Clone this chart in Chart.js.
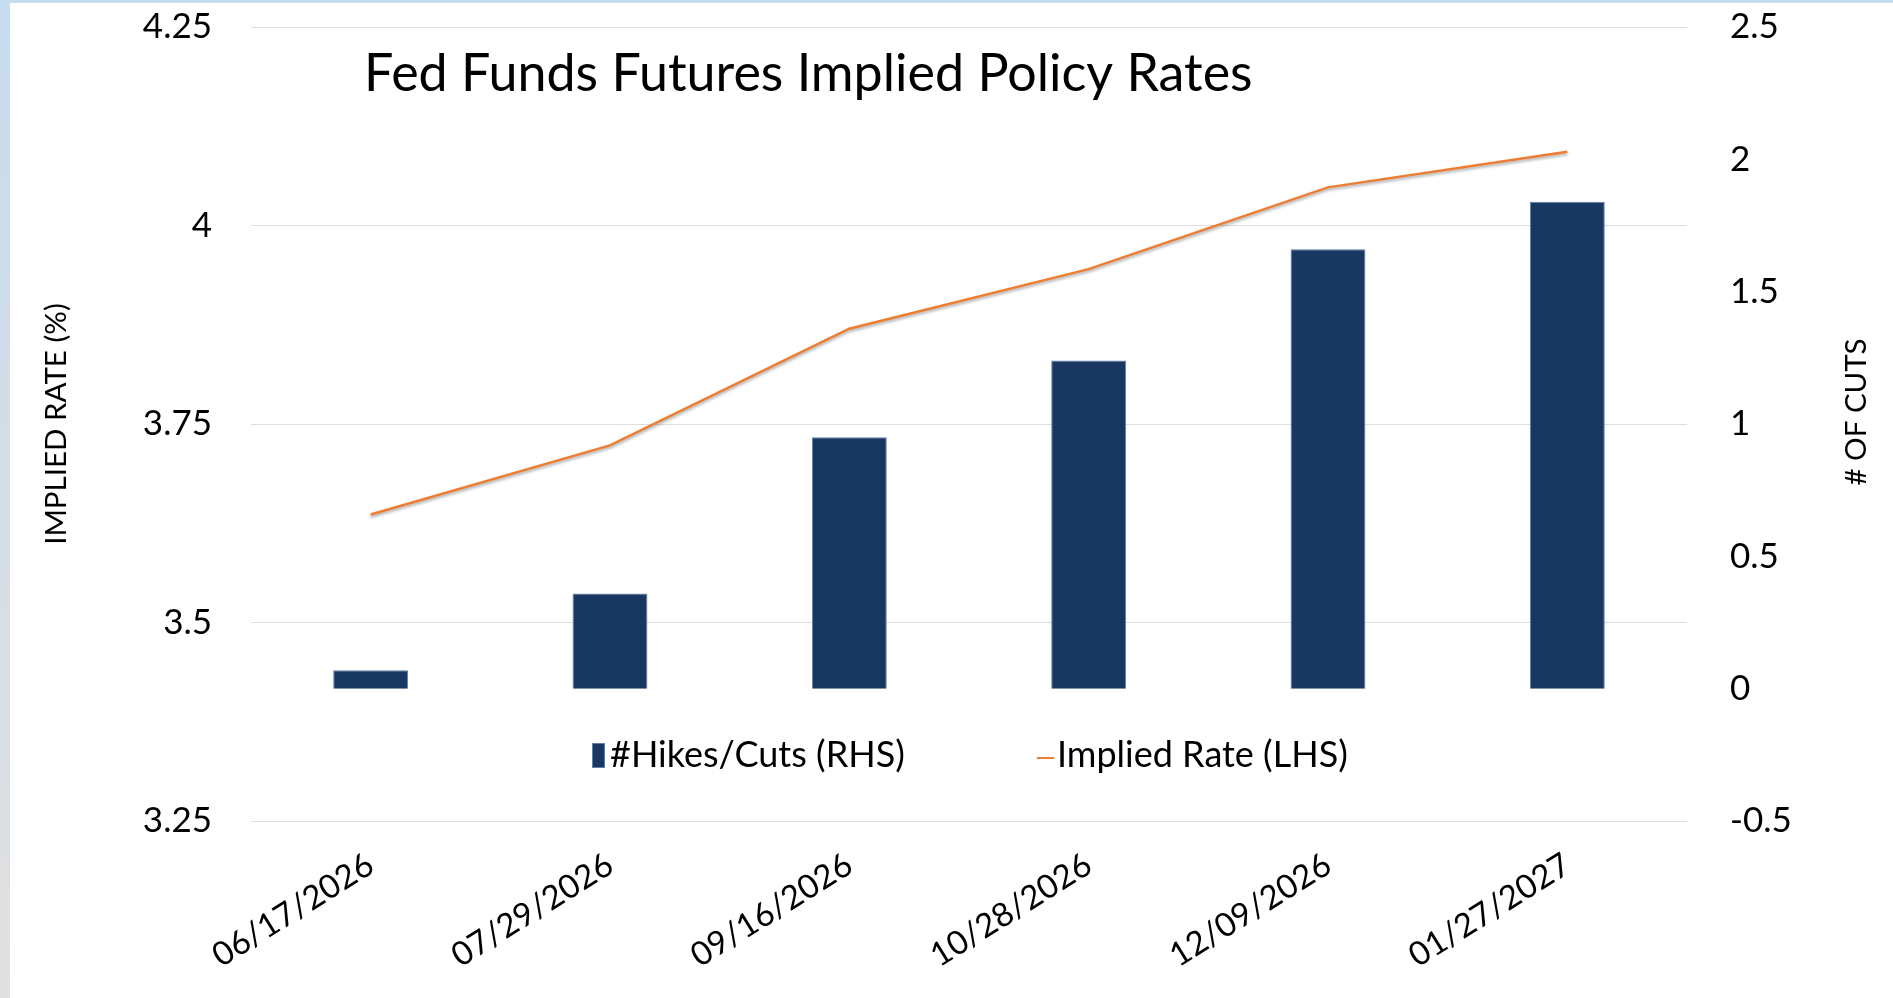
<!DOCTYPE html>
<html>
<head>
<meta charset="utf-8">
<title>Fed Funds Futures Implied Policy Rates</title>
<script src="https://cdn.jsdelivr.net/npm/chart.js@4.4.1/dist/chart.umd.min.js"></script>
<style>
  html, body { margin: 0; padding: 0; overflow: hidden; }
  body {
    width: 1893px; height: 998px;
    background: linear-gradient(to bottom, #c6dcef 0%, #d3dde6 45%, #e0e0e0 100%);
  }
  #wrap {
    position: absolute; left: 10px; top: 3px;
    width: 1883px; height: 995px; background: #ffffff;
  }
</style>
</head>
<body>
<div id="wrap"><canvas id="chartFedFunds"></canvas></div>
<script>
(function() {
  'use strict';

  // Datos
  const dates = ['06/17/2026', '07/29/2026', '09/16/2026', '10/28/2026', '12/09/2026', '01/27/2027'];
  const hikesCuts = [0.07, 0.36, 0.95, 1.24, 1.66, 1.84];
  const impliedRate = [3.636, 3.723, 3.870, 3.945, 4.048, 4.093];
  const leftTicks = [3.25, 3.5, 3.75, 4, 4.25];
  const rightTicks = [-0.5, 0, 0.5, 1, 1.5, 2, 2.5];

  const FONT = "Lato, 'Noto Sans', sans-serif";
  const BAR_COLOR = '#193861';
  const LINE_COLOR = '#ed7d31';

  Chart.defaults.font.family = FONT;
  Chart.defaults.color = '#000000';

  // Título, leyenda y título del eje derecho dibujados dentro del área
  const overlayPlugin = {
    id: 'overlay',
    beforeDatasetDraw(chart, args) {
      if (args.index === 1) {
        chart.ctx.save();
        chart.ctx.shadowColor = 'rgba(0,0,0,0.35)';
        chart.ctx.shadowBlur = 3;
        chart.ctx.shadowOffsetY = 2;
      }
    },
    afterDatasetDraw(chart, args) {
      if (args.index === 1) chart.ctx.restore();
    },
    afterDraw(chart) {
      const ctx = chart.ctx;
      const area = chart.chartArea;
      ctx.save();

      // título
      ctx.fillStyle = '#000';
      ctx.font = '52px ' + FONT;
      ctx.textAlign = 'left';
      ctx.textBaseline = 'alphabetic';
      ctx.fillText('Fed Funds Futures Implied Policy Rates', area.left + 113, area.top + 64);

      // leyenda
      const ly = area.top + 728;
      ctx.font = '36px ' + FONT;
      ctx.textBaseline = 'middle';
      ctx.fillStyle = BAR_COLOR;
      ctx.fillRect(area.left + 341, ly - 12, 13, 25);
      ctx.strokeStyle = '#5b7fae';
      ctx.lineWidth = 1;
      ctx.strokeRect(area.left + 341.5, ly - 11.5, 12, 24);
      ctx.fillStyle = '#000';
      ctx.fillText('#Hikes/Cuts (RHS)', area.left + 359, ly);

      ctx.strokeStyle = LINE_COLOR;
      ctx.lineWidth = 2;
      ctx.beginPath();
      ctx.moveTo(area.left + 786, ly + 3);
      ctx.lineTo(area.left + 803, ly + 3);
      ctx.stroke();
      ctx.fillText('Implied Rate (LHS)', area.left + 806, ly);

      // título eje derecho
      ctx.translate(area.right + 169, area.top + 385);
      ctx.rotate(-Math.PI / 2);
      ctx.font = '29.5px ' + FONT;
      ctx.textAlign = 'center';
      ctx.textBaseline = 'middle';
      ctx.fillText('# OF CUTS', 0, 0);
      ctx.restore();
    }
  };

  function init() {
    const canvas = document.getElementById('chartFedFunds');
    if (!canvas) return;
    const ctx = canvas.getContext('2d');

    new Chart(ctx, {
      type: 'bar',
      data: {
        labels: dates,
        datasets: [{
          type: 'bar',
          label: '#Hikes/Cuts (RHS)',
          data: hikesCuts,
          yAxisID: 'y1',
          backgroundColor: BAR_COLOR,
          borderColor: '#5b7fae',
          borderWidth: 1,
          categoryPercentage: 0.313,
          barPercentage: 1,
          order: 2
        }, {
          type: 'line',
          label: 'Implied Rate (LHS)',
          data: impliedRate,
          yAxisID: 'y',
          borderColor: LINE_COLOR,
          backgroundColor: LINE_COLOR,
          borderWidth: 2.5,
          pointRadius: 0,
          tension: 0,
          fill: false,
          order: 1
        }]
      },
      options: {
        responsive: true,
        maintainAspectRatio: false,
        animation: false,
        layout: { padding: { top: 24, left: 0, right: 0, bottom: 0 } },
        plugins: {
          legend: { display: false },
          title: { display: false },
          tooltip: { enabled: false }
        },
        scales: {
          x: {
            grid: { display: false },
            border: { display: false },
            ticks: {
              color: '#000',
              font: { size: 33 },
              minRotation: 32,
              maxRotation: 32,
              padding: 16,
              autoSkip: false
            },
            afterFit: function(scale) { scale.height = 177; }
          },
          y: {
            position: 'left',
            min: 3.25,
            max: 4.25,
            grid: { color: '#dedede', lineWidth: 1, drawTicks: false },
            border: { display: false },
            afterBuildTicks: function(scale) {
              scale.ticks = leftTicks.map(v => ({ value: v }));
            },
            ticks: {
              color: '#000',
              font: { size: 35 },
              padding: 39,
              callback: v => String(Number(v))
            },
            title: {
              display: true,
              text: 'IMPLIED RATE (%)',
              color: '#000',
              font: { size: 29.5 },
              padding: { top: 29, bottom: 0 }
            },
            afterFit: function(scale) {
              scale.width = 241;
              scale.paddingTop = 20;
              scale.paddingBottom = 20;
            }
          },
          y1: {
            position: 'right',
            min: -0.5,
            max: 2.5,
            grid: { display: false, drawTicks: false },
            border: { display: false },
            afterBuildTicks: function(scale) {
              scale.ticks = rightTicks.map(v => ({ value: v }));
            },
            ticks: {
              color: '#000',
              font: { size: 35 },
              padding: 43,
              callback: v => String(Number(v))
            },
            afterFit: function(scale) {
              scale.width = 206;
              scale.paddingTop = 20;
              scale.paddingBottom = 20;
            }
          }
        }
      },
      plugins: [overlayPlugin]
    });
  }

  if (document.readyState === 'loading') {
    document.addEventListener('DOMContentLoaded', init);
  } else {
    init();
  }
})();
</script>
</body>
</html>
